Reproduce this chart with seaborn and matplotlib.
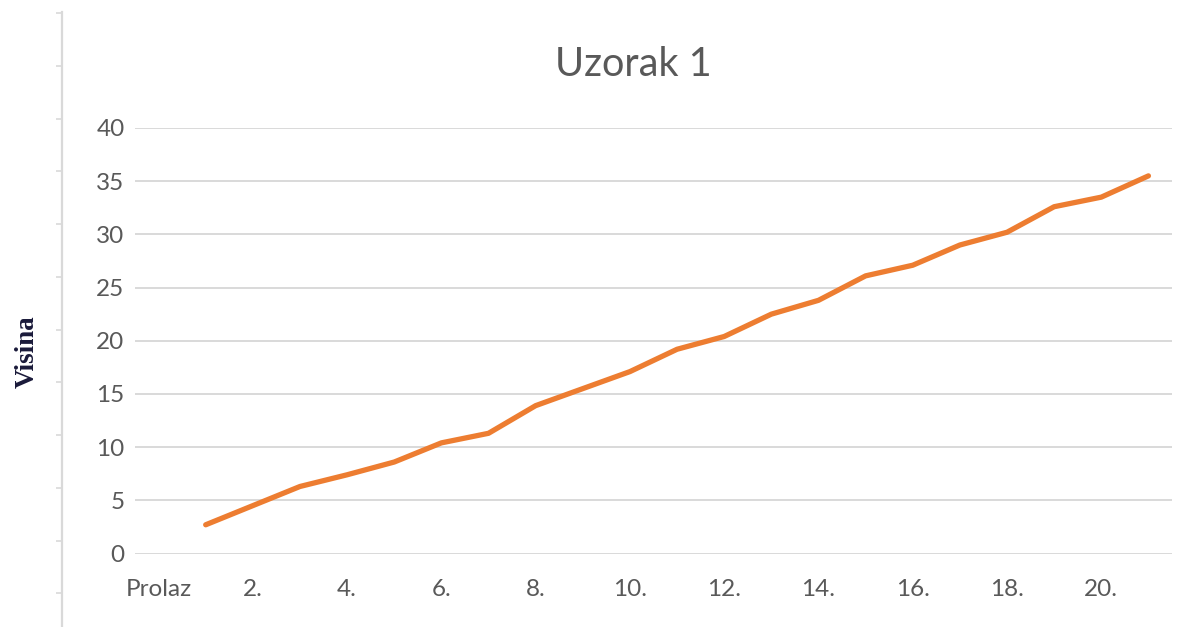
import numpy as np
import pandas as pd
import matplotlib
matplotlib.use("Agg")
import matplotlib.pyplot as plt
import seaborn as sns

# chart data
categories = ["Prolaz", "1.", "2.", "3.", "4.", "5.", "6.", "7.", "8.", "9.", "10.",
              "11.", "12.", "13.", "14.", "15.", "16.", "17.", "18.", "19.", "20.", "21."]
visina = [np.nan, 2.7, 4.5, 6.3, 7.4, 8.6, 10.4, 11.3, 13.9, 15.5, 17.1,
          19.2, 20.4, 22.5, 23.8, 26.1, 27.1, 29.0, 30.2, 32.6, 33.5, 35.5]
shown_labels = ["Prolaz", "2.", "4.", "6.", "8.", "10.", "12.", "14.", "16.", "18.", "20."]
y_ticks = [0, 5, 10, 15, 20, 25, 30, 35, 40]

title = "Uzorak 1"
y_label = "Visina"

ORANGE = "#ED7D31"
GRID = "#D9D9D9"
TEXT = "#595959"

sns.set_theme(style="white")
plt.rcParams["font.family"] = ["Lato", "DejaVu Sans"]

W, H = 1197, 627
fig = plt.figure(figsize=(W / 100, H / 100), dpi=100)

# plot area in pixels: x 135..1172, y 128 (40) .. 553.5 (0)
ax = fig.add_axes([135 / W, 1 - 553.5 / H, (1172 - 135) / W, (553.5 - 128) / H])

df = pd.DataFrame({"pos": np.arange(len(categories)), "kategorija": categories, "visina": visina})
sns.lineplot(data=df.dropna(), x="pos", y="visina", ax=ax, color=ORANGE,
             linewidth=3.8, solid_capstyle="round", solid_joinstyle="round")

ax.set_xlim(-0.5, len(categories) - 0.5)
ax.set_ylim(0, 40)
ax.set_yticks(y_ticks)
ax.set_yticklabels([str(v) for v in y_ticks])
ax.set_xticks(np.arange(0, len(categories), 2))
ax.set_xticklabels(shown_labels)

ax.grid(axis="y", color=GRID, linewidth=1.4)
ax.grid(axis="x", visible=False)
ax.set_axisbelow(True)
for s in ax.spines.values():
    s.set_visible(False)

ax.tick_params(axis="both", length=0, labelsize=17.5, labelcolor=TEXT)
ax.tick_params(axis="y", pad=7.5)
ax.tick_params(axis="x", pad=18.5)
ax.set_xlabel("")
ax.set_ylabel("")

fig.text(633 / W, 1 - 65 / H, title, ha="center", va="center",
         fontsize=28.5, color=TEXT)
fig.text(27 / W, 1 - 352 / H, y_label, ha="center", va="center", rotation=90,
         fontsize=19.5, fontweight="bold", color="#1a1a3a",
         family=["Liberation Serif", "DejaVu Serif"])

# thin sheet border on the left with small marks
ax2 = fig.add_axes([0, 0, 62 / W, (H - 12) / H])
ax2.set_facecolor("none")
ax2.set_ylim(H, 12)
ax2.set_xlim(0, 1)
for side in ["top", "bottom", "left"]:
    ax2.spines[side].set_visible(False)
ax2.spines["right"].set_color(GRID)
ax2.spines["right"].set_linewidth(1.6)
ax2.set_xticks([])
ax2.yaxis.tick_right()
ax2.set_yticks(np.arange(13, H, 52.75))
ax2.set_yticklabels([])
ax2.tick_params(axis="y", direction="in", length=4, color=GRID, width=1.2)

fig.savefig("out.png", dpi=100)
